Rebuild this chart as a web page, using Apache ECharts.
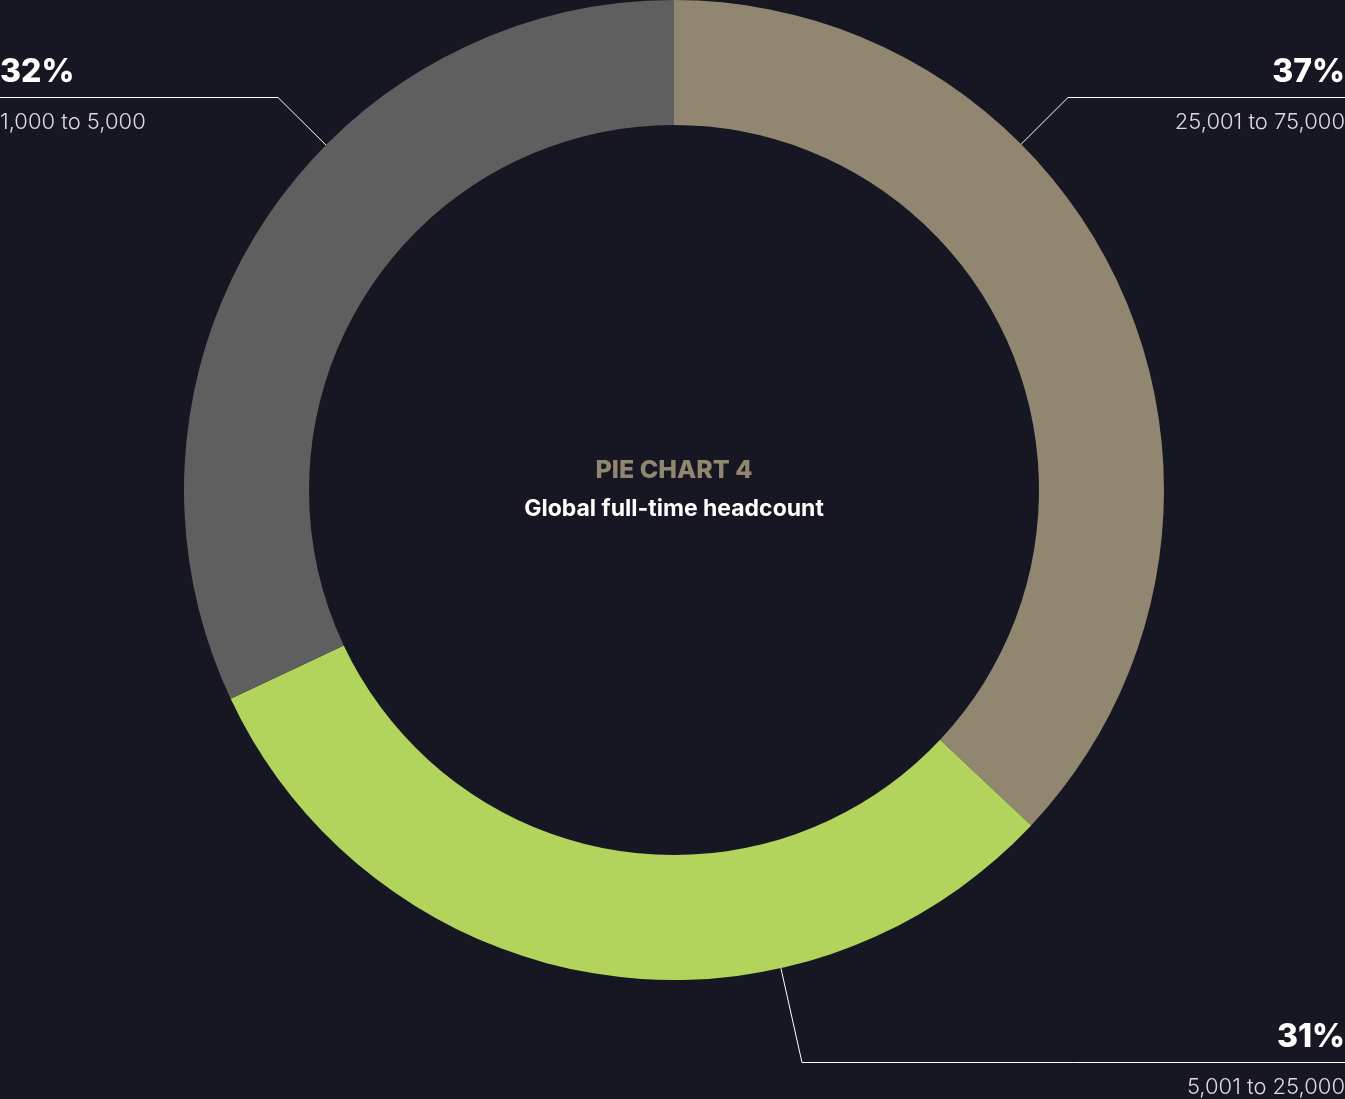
<!DOCTYPE html>
<html>
<head>
<meta charset="utf-8">
<title>Global full-time headcount</title>
<script src="https://cdn.jsdelivr.net/npm/echarts@6/dist/echarts.min.js"></script>
<style>
  html, body { margin: 0; padding: 0; background: #161722; }
  #chart { width: 1345px; height: 1099px; }
</style>
</head>
<body>
<div id="chart"></div>
<script>
// Headcount bands and their share of companies (percent)
const categories = ['25,001 to 75,000', '5,001 to 25,000', '1,000 to 5,000'];
const shares = [37, 31, 32];
const sliceColors = ['#918670', '#b2d35c', '#5f5f5f'];

// Callout placement: which edge it hangs from, height of its rule, rule length
const calloutSide = ['right', 'right', 'left'];
const calloutRuleY = [97.5, 1062.5, 97.5];
const calloutRuleLength = [277, 543, 278];

const FONT = 'Inter, "Open Sans", sans-serif';
const CHART_W = 1345;
const PIE_CENTER = [674, 490];
const PIE_RADIUS = [365, 490];

const chart = echarts.init(document.getElementById('chart'), null, { renderer: 'canvas' });

const pieData = shares.map((v, i) => ({
  value: v,
  name: categories[i],
  itemStyle: { color: sliceColors[i] }
}));

// Leader line: from the closest point on the ring's outer edge to the start
// of the horizontal rule, then along the rule to the chart edge.
function leaderPoints(i) {
  const right = calloutSide[i] === 'right';
  const edgeX = right ? CHART_W : 0;
  const bendX = right ? CHART_W - calloutRuleLength[i] : calloutRuleLength[i];
  const y = calloutRuleY[i];
  const dx = bendX - PIE_CENTER[0];
  const dy = y - PIE_CENTER[1];
  const d = Math.sqrt(dx * dx + dy * dy);
  const r = PIE_RADIUS[1];
  const arcPt = [PIE_CENTER[0] + dx / d * r, PIE_CENTER[1] + dy / d * r];
  return [arcPt, [bendX, y], [edgeX, y]];
}

chart.setOption({
  backgroundColor: '#161722',
  animation: false,
  graphic: [
    {
      type: 'text',
      x: 674, y: 470,
      style: {
        text: 'PIE CHART 4',
        fill: '#918670',
        font: '800 25px ' + FONT,
        textAlign: 'center',
        textVerticalAlign: 'middle'
      }
    },
    {
      type: 'text',
      x: 674, y: 509,
      style: {
        text: 'Global full-time headcount',
        fill: '#ffffff',
        font: '700 23px ' + FONT,
        textAlign: 'center',
        textVerticalAlign: 'middle'
      }
    }
  ],
  series: [{
    type: 'pie',
    center: PIE_CENTER,
    radius: PIE_RADIUS,
    startAngle: 90,
    clockwise: true,
    avoidLabelOverlap: false,
    emphasis: { disabled: true },
    itemStyle: { borderWidth: 0 },
    data: pieData,
    label: {
      show: true,
      color: '#ffffff',
      fontFamily: FONT,
      formatter: '{pct|{c}%}\n{name|{b}}',
      rich: {
        pct: { fontSize: 32, fontWeight: 800, color: '#ffffff', lineHeight: 50, fontFamily: FONT },
        name: { fontSize: 22, fontWeight: 300, color: '#dcdce0', lineHeight: 50, fontFamily: FONT }
      }
    },
    labelLine: {
      show: true,
      length: 20,
      length2: 0,
      smooth: false,
      lineStyle: { color: '#ffffff', width: 1 }
    },
    labelLayout: function (params) {
      const i = params.dataIndex;
      return {
        x: calloutSide[i] === 'right' ? CHART_W : 0,
        y: calloutRuleY[i],
        align: calloutSide[i],
        verticalAlign: 'middle',
        labelLinePoints: leaderPoints(i)
      };
    }
  }]
});
</script>
</body>
</html>
